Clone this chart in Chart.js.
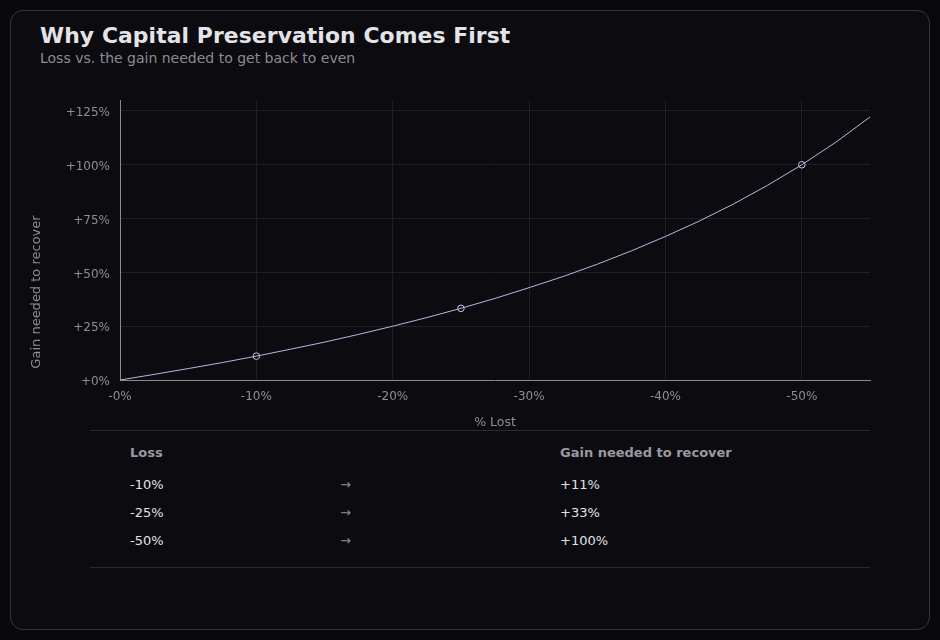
<!DOCTYPE html>
<html>
<head>
<meta charset="utf-8">
<script src="https://cdn.jsdelivr.net/npm/chart.js@4.4.1/dist/chart.umd.min.js"></script>
<style>
  html, body { margin:0; padding:0; background:#09090c; width:940px; height:640px; overflow:hidden; font-family:"DejaVu Sans", sans-serif; }
  .card { position:absolute; left:10px; top:10px; width:918px; height:618px; border:1.5px solid #34343a; border-radius:13px; background:#0c0c10; }
  h1 { position:absolute; left:40px; top:23px; margin:0; font-size:21.85px; font-weight:bold; color:#e4e4e8; letter-spacing:0.1px; }
  .sub { position:absolute; left:40px; top:50px; font-size:14px; color:#8b8b92; }
  .chartbox { position:absolute; left:20px; top:83px; width:870px; height:347px; }
  .tbl { position:absolute; left:90px; top:430px; width:780px; height:136px; border-top:1px solid #2a2a30; border-bottom:1px solid #2a2a30; font-size:13px; }
  .cell { position:absolute; white-space:nowrap; }
  .hd { color:#9a9aa0; font-weight:bold; }
  .rw { color:#e2e2e6; }
  .ar { color:#8a8a92; }
</style>
</head>
<body>
<div class="card"></div>
<h1>Why Capital Preservation Comes First</h1>
<div class="sub">Loss vs. the gain needed to get back to even</div>
<div class="chartbox"><canvas id="c" width="870" height="347"></canvas></div>
<div class="tbl" id="tbl"></div>
<script>
const lossPct = [0,2.5,5,7.5,10,12.5,15,17.5,20,22.5,25,27.5,30,32.5,35,37.5,40,42.5,45,47.5,50,52.5,55];
const gainPct = [0,2.6,5.3,8.1,11.1,14.3,17.6,21.2,25,29,33.3,37.9,42.9,48.1,53.8,60,66.7,73.9,81.8,90.5,100,110.5,122.2];
const tableLoss = [10,25,50];
const tableGain = [11,33,100];
const tableGainExact = [11.1,33.3,100];
const xTicks = [0,10,20,30,40,50];
const yTicks = [0,25,50,75,100,125];
const yTitle = 'Gain needed to recover';

// table
const tbl = document.getElementById('tbl');
function cell(txt, cls, x, y){ const d=document.createElement('div'); d.className='cell '+cls; d.textContent=txt; d.style.left=x+'px'; d.style.top=y+'px'; tbl.appendChild(d); }
cell('Loss','hd',40,14);
cell('Gain needed to recover','hd',470,14);
tableLoss.forEach((l,i)=>{
  const y = 46 + i*28;
  cell('-'+l+'%','rw',40,y);
  cell('→','ar',250,y);
  cell('+'+tableGain[i]+'%','rw',470,y);
});

const tickColor = '#8d8d95';
const yTitlePlugin = {
  id:'yTitle',
  afterDraw(chart){
    const ctx = chart.ctx;
    ctx.save();
    ctx.translate(17, 209);
    ctx.rotate(-Math.PI/2);
    ctx.fillStyle = tickColor;
    ctx.font = '13px "DejaVu Sans"';
    ctx.textAlign = 'center';
    ctx.textBaseline = 'middle';
    ctx.fillText(yTitle, 0, 0);
    ctx.restore();
  }
};
new Chart(document.getElementById('c'), {
  type:'scatter',
  data:{
    datasets:[
      { data: lossPct.map((x,i)=>({x, y:gainPct[i]})), showLine:true, borderColor:'#b4b8e0', borderWidth:1, pointRadius:0, tension:0 },
      { data: tableLoss.map((x,i)=>({x, y:tableGainExact[i]})), showLine:false, pointRadius:3.3, pointBorderWidth:1, pointBorderColor:'#c4c7ea', pointBackgroundColor:'#0c0c10' }
    ]
  },
  plugins:[yTitlePlugin],
  options:{
    responsive:false, animation:false, devicePixelRatio:1,
    layout:{ padding:{ left:0, right:20, top:3, bottom:0 } },
    plugins:{ legend:{display:false}, tooltip:{enabled:false} },
    scales:{
      x:{
        type:'linear', min:0, max:55,
        afterBuildTicks:s=>{ s.ticks = xTicks.map(v=>({value:v})); },
        afterFit:s=>{ s.height = 50; },
        grid:{ color:'#1f1f25', drawTicks:false, lineWidth:1 },
        border:{ color:'#8a8a90', width:1 },
        ticks:{ color:tickColor, font:{family:'DejaVu Sans', size:12}, padding:10, callback:v=>'-'+v+'%' },
        title:{ display:true, text:'% Lost', color:tickColor, font:{family:'DejaVu Sans', size:12.5}, padding:{top:8, bottom:0} }
      },
      y:{
        type:'linear', min:0, max:130,
        afterBuildTicks:s=>{ s.ticks = yTicks.map(v=>({value:v})); },
        afterFit:s=>{ s.width = 100; },
        grid:{ color:'#1f1f25', drawTicks:false, lineWidth:1 },
        border:{ color:'#8a8a90', width:1 },
        ticks:{ color:tickColor, font:{family:'DejaVu Sans', size:12}, padding:10, labelOffset:2, callback:v=>'+'+v+'%' },
        title:{ display:false }
      }
    }
  }
});
</script>
</body>
</html>
